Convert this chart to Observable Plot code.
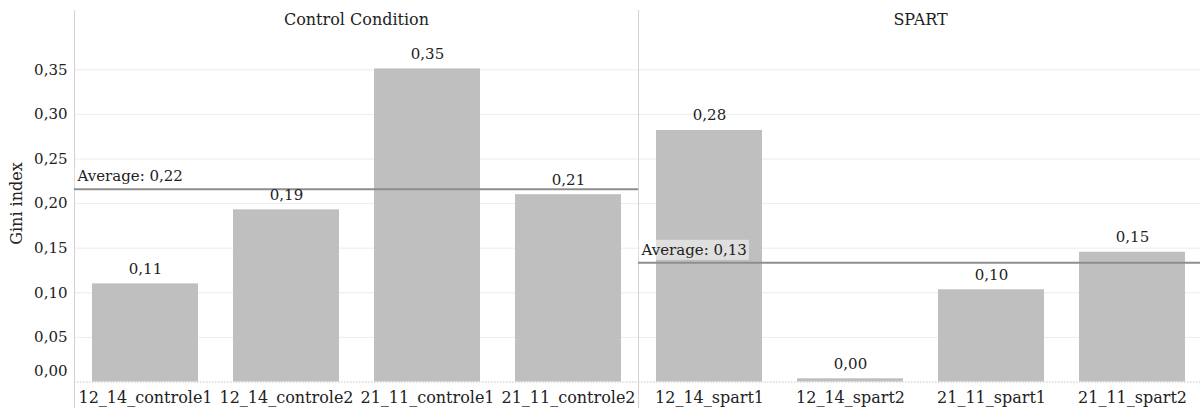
<!DOCTYPE html>
<html>
<head>
<meta charset="utf-8">
<script src="https://cdn.jsdelivr.net/npm/d3@7"></script>
<script src="https://cdn.jsdelivr.net/npm/@observablehq/plot@0.6"></script>
<style>
  html, body { margin: 0; padding: 0; background: #fff; overflow: hidden; width: 1200px; height: 408px; }
  #chart svg { max-width: none !important; display: block; }
</style>
</head>
<body>
<div id="chart"></div>
<script>
// ---- data ----
const groups = ["Control Condition", "SPART"];
const controlLabels = ["12_14_controle1", "12_14_controle2", "21_11_controle1", "21_11_controle2"];
const controlValues = [0.110, 0.193, 0.351, 0.210];
const spartLabels = ["12_14_spart1", "12_14_spart2", "21_11_spart1", "21_11_spart2"];
const spartValues = [0.282, 0.0036, 0.1034, 0.1455];
const yTicks = [0, 0.05, 0.10, 0.15, 0.20, 0.25, 0.30, 0.35];
const yLabel = "Gini index";
const avgPrefix = "Average: ";

const rows = [
  ...controlLabels.map((name, i) => ({group: groups[0], slot: i, name, value: controlValues[i]})),
  ...spartLabels.map((name, i) => ({group: groups[1], slot: i, name, value: spartValues[i]}))
];
const fmt = v => d3.format(".2f")(v).replace(".", ",");

const FONT = "'DejaVu Serif', serif";
const INK = "#222";

const chart = Plot.plot({
  width: 1202,
  height: 408,
  marginLeft: 74,
  marginRight: 0,
  marginTop: 10,
  marginBottom: 0,
  style: {fontFamily: FONT, background: "#fff", color: INK},
  fx: {domain: groups, padding: 0, axis: null},
  x: {type: "band", domain: [0, 1, 2, 3], paddingInner: 0.25, paddingOuter: 0.125, axis: null},
  y: {domain: [0, (381.5 - 30) / 892], range: [381.5, 30], axis: null},
  marks: [
    Plot.gridY({ticks: yTicks.filter(v => v > 0), stroke: "#ececec", strokeOpacity: 1}),
    Plot.frame({anchor: "left", stroke: "#d2d2d2"}),
    Plot.axisY({ticks: yTicks.filter(v => v > 0), tickFormat: fmt, tickSize: 0, tickPadding: 7, fontSize: 15, fill: INK, label: null}),
    Plot.axisY({ticks: [0], tickFormat: fmt, tickSize: 0, tickPadding: 7, dy: -11, fontSize: 15, fill: INK, label: null}),
    Plot.text([{g: groups[0], t: yLabel}], {fx: "g", text: "t", frameAnchor: "left", textAnchor: "middle", lineAnchor: "middle", rotate: -90, dx: -58, dy: -6, fontSize: 16, fill: INK}),
    Plot.barY(rows, {x: "slot", y: "value", fx: "group", fill: "#bfbfbf"}),
    Plot.ruleY([0], {stroke: "#c4c4c4", strokeDasharray: "1.5,1.5"}),
    Plot.ruleY(rows, Plot.groupZ({y: "mean"}, {y: "value", fx: "group", stroke: "#8e8e8e", strokeWidth: 2})),
    Plot.text(rows, Plot.groupZ(
      {y: "mean", text: vals => avgPrefix + fmt(d3.mean(vals))},
      {y: "value", text: "value", fx: "group", frameAnchor: "left", textAnchor: "start", lineAnchor: "bottom", dx: 3, dy: -8, fontSize: 15, fill: INK}
    )),
    Plot.text(rows, {x: "slot", y: "value", fx: "group", text: d => fmt(d.value), lineAnchor: "bottom", dy: -10, fontSize: 15, fill: INK}),
    Plot.text(rows, {x: "slot", fx: "group", text: "name", frameAnchor: "bottom", lineAnchor: "middle", dy: -11, fontSize: 16, fill: INK}),
    Plot.text(groups, {fx: d => d, text: d => d, frameAnchor: "top", lineAnchor: "middle", dy: 9, fontSize: 16, fill: INK})
  ]
});
document.getElementById("chart").appendChild(chart);

// translucent label boxes behind the average labels
chart.querySelectorAll("text").forEach(t => {
  if (!t.textContent.startsWith(avgPrefix)) return;
  const b = t.getBBox();
  const r = document.createElementNS("http://www.w3.org/2000/svg", "rect");
  r.setAttribute("x", b.x - 2);
  r.setAttribute("y", b.y - 1);
  r.setAttribute("width", b.width + 4);
  r.setAttribute("height", b.height + 2);
  r.setAttribute("fill", "#ffffff");
  r.setAttribute("fill-opacity", "0.5");
  const tr = t.getAttribute("transform");
  if (tr) r.setAttribute("transform", tr);
  t.parentNode.insertBefore(r, t);
});
</script>
</body>
</html>
